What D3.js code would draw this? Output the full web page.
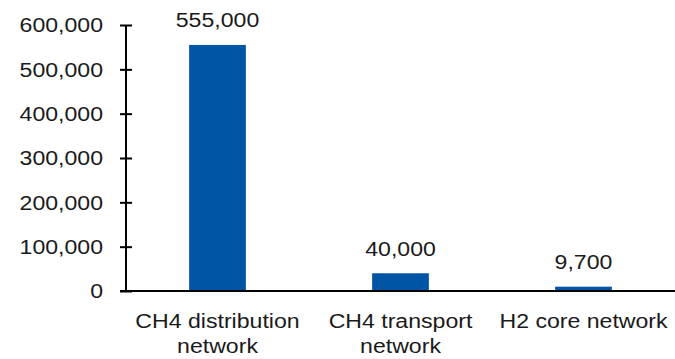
<!DOCTYPE html>
<html>
<head>
<meta charset="utf-8">
<script src="https://cdn.jsdelivr.net/npm/d3@7"></script>
<style>
  body { margin: 0; background: #fff; }
  svg text { font-family: "Liberation Sans", Arial, sans-serif; fill: #1a1a1a; }
</style>
</head>
<body>
<svg width="675" height="359"></svg>
<script>
// data
var categories = [["CH4 distribution", "network"], ["CH4 transport", "network"], ["H2 core network"]];
var values = [555000, 40000, 9700];
var yTicks = [0, 100000, 200000, 300000, 400000, 500000, 600000];

var svg = d3.select("svg");
var plotLeft = 126, plotRight = 675, plotTop = 25, plotBottom = 291;
var fontSize = 21, stretch = 1.1; // source text is a bit wider than Liberation Sans

var x = d3.scaleBand()
    .domain(d3.range(values.length))
    .range([plotLeft, plotRight])
    .paddingInner(0.69)
    .paddingOuter(0.345);

var y = d3.scaleLinear().domain([0, 600000]).range([plotBottom, plotTop]);
var fmt = d3.format(",");

// y axis, ticks cross the line on both sides
var yAxis = svg.append("g")
    .attr("transform", "translate(" + plotLeft + ",0)")
    .call(d3.axisLeft(y).tickValues(yTicks).tickSize(6).tickFormat(fmt));
yAxis.select(".domain").attr("stroke", "#000").attr("stroke-width", 2)
    .attr("d", "M0," + plotTop + "V" + plotBottom);
yAxis.selectAll(".tick line").attr("x1", -6).attr("x2", 6)
    .attr("stroke", "#000").attr("stroke-width", 2);
yAxis.selectAll(".tick text")
    .attr("x", -23 / stretch)
    .attr("transform", "scale(" + stretch + ",1)")
    .attr("font-size", fontSize)
    .attr("font-family", "Liberation Sans, Arial, sans-serif")
    .attr("fill", "#1a1a1a");

// bars
svg.selectAll("rect.bar")
    .data(values)
    .enter().append("rect")
    .attr("class", "bar")
    .attr("x", function(d, i){ return x(i); })
    .attr("y", function(d){ return y(d); })
    .attr("width", x.bandwidth())
    .attr("height", function(d){ return y(0) - y(d); })
    .attr("fill", "#0055a5");

// baseline
svg.append("line")
    .attr("x1", plotLeft - 6).attr("x2", plotRight)
    .attr("y1", y(0)).attr("y2", y(0))
    .attr("stroke", "#000").attr("stroke-width", 2);

// value labels
svg.selectAll("text.val")
    .data(values)
    .enter().append("text")
    .attr("class", "val")
    .attr("transform", function(d, i){
        return "translate(" + (x(i) + x.bandwidth() / 2) + "," + (y(d) - 17.5) + ") scale(" + stretch + ",1)";
    })
    .attr("text-anchor", "middle")
    .attr("font-size", fontSize)
    .text(function(d){ return fmt(d); });

// category labels
categories.forEach(function(lines, i){
    var t = svg.append("text")
        .attr("text-anchor", "middle")
        .attr("font-size", fontSize)
        .attr("transform", "translate(" + (x(i) + x.bandwidth() / 2) + ",328) scale(" + stretch + ",1)");
    lines.forEach(function(s, j){
        t.append("tspan")
            .attr("x", 0)
            .attr("dy", j == 0 ? 0 : 25)
            .text(s);
    });
});
</script>
</body>
</html>
